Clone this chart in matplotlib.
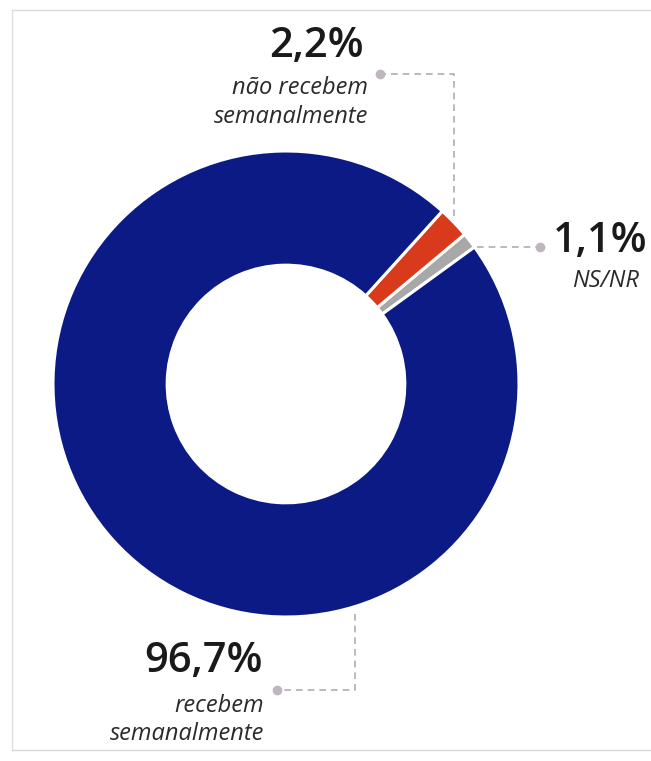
import numpy as np
import matplotlib.pyplot as plt

plt.rcParams['font.family'] = ['Open Sans', 'DejaVu Sans']

# dados
categorias = ['NS/NR', 'não recebem\nsemanalmente', 'recebem\nsemanalmente']
valores = [1.1, 2.2, 96.7]
rotulos = ['1,1%', '2,2%', '96,7%']
cores = ['#a8a8a8', '#d93a1c', '#0c1a86']

W, H = 651, 761
fig = plt.figure(figsize=(W/100, H/100), dpi=100)
ax = fig.add_axes([0, 0, 1, 1])

# centro e raio em pixels (y invertido)
cx, cy, R = 286, H - 384, 233
wedges, _ = ax.pie(valores, colors=cores, startangle=36, counterclock=True,
                   radius=R, center=(cx, cy),
                   wedgeprops=dict(width=R*0.49, edgecolor='white', linewidth=2.2))
ax.set_xlim(0, W)
ax.set_ylim(0, H)
ax.set_aspect('equal')
ax.axis('off')

# moldura da digitalizacao
ax.plot([12, W], [H-10, H-10], color='#d8d8d8', lw=1)
ax.plot([12, 12], [H-10, H-750], color='#e0e0e0', lw=1)
ax.plot([12, W], [H-750, H-750], color='#d8d8d8', lw=1)

linha = dict(color='#b3acb3', lw=1.2, ls=(0, (4, 3)))
ponto = dict(marker='o', ms=7, color='#bdb6bd', mec='none')
desc = dict(fontsize=17, style='italic', color='#2a2a2a')
num = dict(fontsize=30, fontweight='semibold', color='#1a1a1a')

def ponto_borda(w, r=R):
    a = np.deg2rad((w.theta1 + w.theta2)/2)
    return cx + r*np.cos(a), cy + r*np.sin(a)

# 2,2% - nao recebem
px, py = ponto_borda(wedges[1])
dot = (380, H-74)
ax.plot([px, px, dot[0]], [py+6, dot[1], dot[1]], **linha)
ax.plot(*dot, **ponto)
ax.text(364, H-57, rotulos[1], ha='right', va='baseline', **num)
ax.text(368, H-94, 'não recebem', ha='right', va='baseline', **desc)
ax.text(368, H-123, 'semanalmente', ha='right', va='baseline', **desc)

# 1,1% - NS/NR
yl = H - 247
x0 = cx + np.sqrt(R**2 - (yl-cy)**2) + 3
dot = (540, yl)
ax.plot([x0, dot[0]], [yl, yl], **linha)
ax.plot(*dot, **ponto)
ax.text(553, H-252, rotulos[0], ha='left', va='baseline', **num)
ax.text(605, H-287, categorias[0], ha='center', va='baseline', **desc)

# 96,7% - recebem
xl = 355
y0 = cy - np.sqrt(R**2 - (xl-cx)**2) - 7
dot = (277, H-690)
ax.plot([xl, xl, dot[0]], [y0, dot[1], dot[1]], **linha)
ax.plot(*dot, **ponto)
ax.text(263, H-672, rotulos[2], ha='right', va='baseline', **num)
ax.text(264, H-712, 'recebem', ha='right', va='baseline', **desc)
ax.text(264, H-740, 'semanalmente', ha='right', va='baseline', **desc)

fig.savefig('out.png', dpi=100)
